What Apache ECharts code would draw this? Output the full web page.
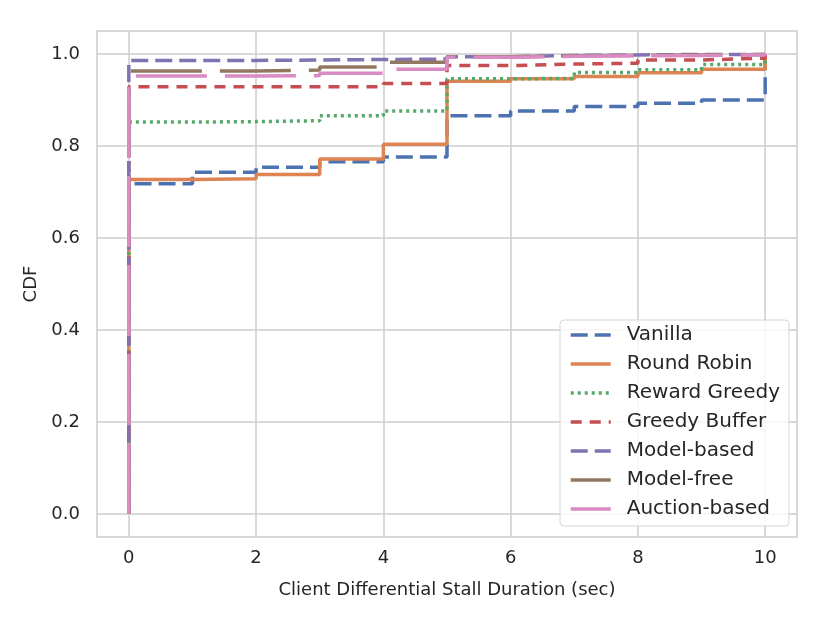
<!DOCTYPE html>
<html>
<head>
<meta charset="utf-8">
<script src="https://cdn.jsdelivr.net/npm/echarts@6/dist/echarts.min.js"></script>
<style>
  html, body { margin: 0; padding: 0; background: #fff; }
  #grafico { width: 830px; height: 623px; }
</style>
</head>
<body>
<div id="grafico"></div>
<script>
// Dados (CDF em degraus, x = duração em segundos)
const passos = [0, 0, 1, 2, 3, 4, 5, 6, 7, 8, 9, 10, 10];
const vanilla = [0, 0.718, 0.743, 0.754, 0.766, 0.776, 0.866, 0.876, 0.886, 0.893, 0.900, 0.903, 1.0];
const roundRobin = [0, 0.727, 0.729, 0.738, 0.772, 0.804, 0.941, 0.946, 0.951, 0.959, 0.967, 0.967, 1.0];
const rewardGreedy = [0, 0.852, 0.853, 0.855, 0.866, 0.876, 0.946, 0.947, 0.960, 0.966, 0.977, 0.980, 1.0];
const greedyBuffer = [0, 0.929, 0.929, 0.929, 0.929, 0.936, 0.975, 0.978, 0.980, 0.987, 0.991, 0.991, 1.0];
const modelBased = [0, 0.986, 0.986, 0.987, 0.988, 0.989, 0.994, 0.997, 0.998, 0.999, 0.999, 0.999, 1.0];
const modelFree = [0, 0.963, 0.963, 0.965, 0.972, 0.982, 0.994, 0.996, 0.997, 0.998, 0.999, 0.999, 1.0];
const auctionBased = [0, 0.952, 0.952, 0.953, 0.958, 0.967, 0.993, 0.995, 0.996, 0.997, 0.998, 0.998, 1.0];

const xTicks = [0, 2, 4, 6, 8, 10];
const yTicks = [0, 0.2, 0.4, 0.6, 0.8, 1.0];

const nomes = ['Vanilla', 'Round Robin', 'Reward Greedy', 'Greedy Buffer', 'Model-based', 'Model-free', 'Auction-based'];
const valores = [vanilla, roundRobin, rewardGreedy, greedyBuffer, modelBased, modelFree, auctionBased];
const cores = ['#4C72B0', '#DD8452', '#55A868', '#C44E52', '#8172B3', '#937860', '#DA8BC3'];
const tracos = [[17, 7], 'solid', [3, 4], [11, 8], [17, 7], [71, 18], [71, 18]];

const corTexto = '#262626';
const corGrade = '#cccccc';

var chartDom = document.getElementById('grafico');
var myChart = echarts.init(chartDom);

var series = nomes.map(function (nome, i) {
    return {
        name: nome,
        type: 'line',
        step: 'end',
        symbol: 'none',
        animation: false,
        data: passos.map((x, k) => [x, valores[i][k]]),
        lineStyle: { color: cores[i], width: 3.5, type: tracos[i], cap: 'butt' },
        itemStyle: { color: cores[i] }
    };
});

var option = {
    backgroundColor: '#ffffff',
    textStyle: { fontFamily: 'DejaVu Sans' },
    grid: {
        left: 97,
        right: 33,
        top: 31,
        bottom: 86,
        show: true,
        borderColor: corGrade,
        borderWidth: 1.5,
        containLabel: false
    },
    legend: {
        data: nomes,
        orient: 'vertical',
        right: 41,
        bottom: 97,
        padding: [5, 9, 7, 9],
        itemWidth: 40,
        itemHeight: 14,
        itemGap: 9,
        itemStyle: { opacity: 0 },
        lineStyle: { width: 3.5 },
        backgroundColor: 'rgba(255,255,255,0.8)',
        borderColor: '#d6d6d6',
        borderWidth: 1,
        borderRadius: 4,
        textStyle: { color: corTexto, fontSize: 20, fontFamily: 'DejaVu Sans', padding: [0, 0, 0, 11] }
    },
    xAxis: {
        type: 'value',
        min: -0.5,
        max: 10.5,
        name: 'Client Differential Stall Duration (sec)',
        nameLocation: 'middle',
        nameGap: 44,
        nameTextStyle: { color: corTexto, fontSize: 18 },
        axisLine: { show: false },
        axisTick: { show: false, customValues: xTicks },
        axisLabel: { customValues: xTicks, color: corTexto, fontSize: 18, margin: 12 },
        splitLine: { show: true, customValues: xTicks, lineStyle: { color: corGrade, width: 1.5 } }
    },
    yAxis: {
        type: 'value',
        min: -0.05,
        max: 1.05,
        name: 'CDF',
        nameLocation: 'middle',
        nameGap: 55,
        nameTextStyle: { color: corTexto, fontSize: 18 },
        axisLine: { show: false },
        axisTick: { show: false, customValues: yTicks },
        axisLabel: {
            customValues: yTicks,
            color: corTexto,
            fontSize: 18,
            margin: 17,
            formatter: v => v.toFixed(1)
        },
        splitLine: { show: true, customValues: yTicks, lineStyle: { color: corGrade, width: 1.5 } }
    },
    series: series
};

option && myChart.setOption(option);
</script>
</body>
</html>
